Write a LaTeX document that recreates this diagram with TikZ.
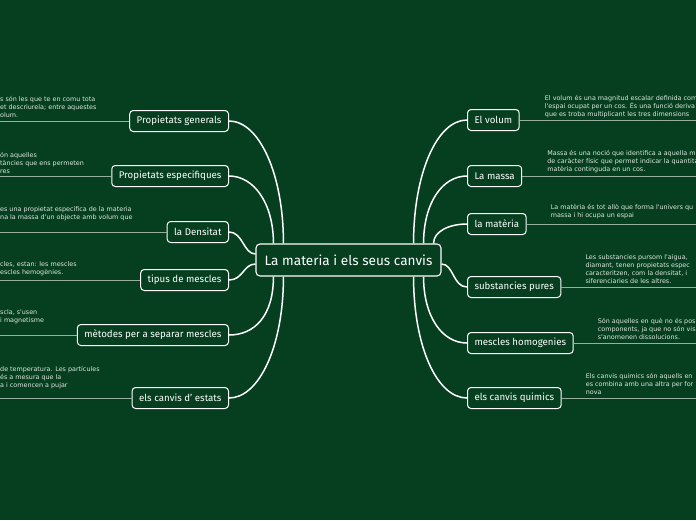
\documentclass[tikz,border=0pt]{standalone}
\usepackage{fontspec}
\setmainfont{Fira Sans}
\newfontfamily\notefont{DejaVu Sans}
\definecolor{bg}{RGB}{6,63,32}
\definecolor{notecol}{RGB}{222,232,224}
\definecolor{leafcol}{RGB}{150,175,158}
\begin{document}
\begin{tikzpicture}[x=1pt,y=-1pt,
main node/.style={draw=white,line width=1.1pt,rounded corners=4pt,fill=bg,text=white,font=\fontsize{13.6}{15}\selectfont,minimum height=32pt,minimum width=185pt},
topic node/.style={draw=white,line width=1pt,rounded corners=3.5pt,fill=bg,text=white,font=\fontsize{9.7}{11}\selectfont,minimum height=21pt,inner xsep=7pt},
branch/.style={white,line width=1.5pt},
leaf/.style={leafcol,line width=0.8pt},
note/.style={text=notecol,font=\notefont\fontsize{6.4}{8}\selectfont,align=left,inner sep=0pt,anchor=south west}]
\fill[bg] (0,0) rectangle (696,520);
\useasboundingbox (0,0) rectangle (696,520);
\coordinate (L) at (0,0);
\coordinate (R) at (696,0);
%centre
  \node[main node] (c) at (348.5,260) {La materia i els seus canvis};
%left
  \node[topic node,anchor=east] (pg) at (229,121) {Propietats generals};
  \node[topic node,anchor=east] (pe) at (229,176) {Propietats especifiques};
  \node[topic node,anchor=east] (de) at (229,232) {la Densitat};
  \node[topic node,anchor=east] (tm) at (229,280) {tipus de mescles};
  \node[topic node,anchor=east] (ms) at (229,335) {mètodes per a separar mescles};
  \node[topic node,anchor=east] (ce) at (229,398) {els canvis d' estats};
%right
  \node[topic node,anchor=west] (vo) at (467,120) {El volum};
  \node[topic node,anchor=west] (ma) at (467,176) {La massa};
  \node[topic node,anchor=west] (mt) at (467,224) {la matèria};
  \node[topic node,anchor=west] (sp) at (467,287) {substancies pures};
  \node[topic node,anchor=west] (mh) at (467,343) {mescles homogenies};
  \node[topic node,anchor=west] (cq) at (467,398) {els canvis quimics};
%branches
  \draw[branch] ([xshift=28pt]c.north west) .. controls +(0,-70) and +(30,0) .. (pg.east);
  \draw[branch] ([xshift=18pt]c.north west) .. controls +(0,-40) and +(25,0) .. (pe.east);
  \draw[branch] ([yshift=6pt]c.west) .. controls +(-12,0) and +(14,0) .. (de.east);
  \draw[branch] ([yshift=-4pt]c.west) .. controls +(-12,0) and +(14,0) .. (tm.east);
  \draw[branch] ([xshift=18pt]c.south west) .. controls +(0,40) and +(25,0) .. (ms.east);
  \draw[branch] ([xshift=28pt]c.south west) .. controls +(0,70) and +(30,0) .. (ce.east);
  \draw[branch] ([xshift=-28pt]c.north east) .. controls +(0,-70) and +(-30,0) .. (vo.west);
  \draw[branch] ([xshift=-18pt]c.north east) .. controls +(0,-40) and +(-25,0) .. (ma.west);
  \draw[branch] ([xshift=-8pt]c.north east) .. controls +(0,-12) and +(-18,0) .. (mt.west);
  \draw[branch] ([yshift=-4pt]c.east) .. controls +(12,0) and +(-14,0) .. (sp.west);
  \draw[branch] ([xshift=-18pt]c.south east) .. controls +(0,40) and +(-25,0) .. (mh.west);
  \draw[branch] ([xshift=-28pt]c.south east) .. controls +(0,70) and +(-30,0) .. (cq.west);
%leaves
  \foreach \n in {pg,pe,de,tm,ms,ce}
    \draw[leaf] (\n.west) -- (\n.west -| L);
  \foreach \n in {vo,ma,mt,sp,mh,cq}
    \draw[leaf] (\n.east) -- (\n.east -| R);
%notes left
  \node[note] (pgn) at (0,118) {s són les que te en comu tota\\et descriurela; entre aquestes\\olum.};
  \node[note] (pen) at (0,174) {ón aquelles\\tàncies que ens permeten\\res};
  \node[note] (den) at (0,221) {es una propietat especifica de la materia\\na la massa d'un objecte amb volum que};
  \node[note] (tmn) at (0,276) {cles, estan: les mescles\\escles hemogènies.};
  \node[note] (msn) at (0,324) {scla, s'usen\\i magnetisme};
  \node[note] (cen) at (0,389) {de temperatura. Les partícules\\és a mesura que la\\a i comencen a pujar};
%notes right
  \node[note] (von) at ([xshift=25pt,yshift=2pt]vo.east) {El volum és una magnitud escalar definida com\\l'espai ocupat per un cos. És una funció deriva\\que es troba multiplicant les tres dimensions};
  \node[note] (man) at ([xshift=25pt,yshift=3pt]ma.east) {Massa és una noció que identifica a aquella m\\de caràcter físic que permet indicar la quantita\\matèria continguda en un cos.};
  \node[note] (mtn) at ([xshift=24pt,yshift=5pt]mt.east) {La matèria és tot allò que forma l'univers qu\\massa i hi ocupa un espai};
  \node[note] (spn) at ([xshift=24pt,yshift=3pt]sp.east) {Les substancies pursom l'aigua,\\diamant, tenen propietats espec\\caracteritzen, com la densitat, i\\siferenciaries de les altres.};
  \node[note] (mhn) at ([xshift=24pt,yshift=3pt]mh.east) {Són aquelles en què no és pos\\components, ja que no són vis\\s'anomenen dissolucions.};
  \node[note] (cqn) at ([xshift=24pt,yshift=3pt]cq.east) {Els canvis quimics són aquells en\\es combina amb una altra per for\\nova};
\end{tikzpicture}
\end{document}
